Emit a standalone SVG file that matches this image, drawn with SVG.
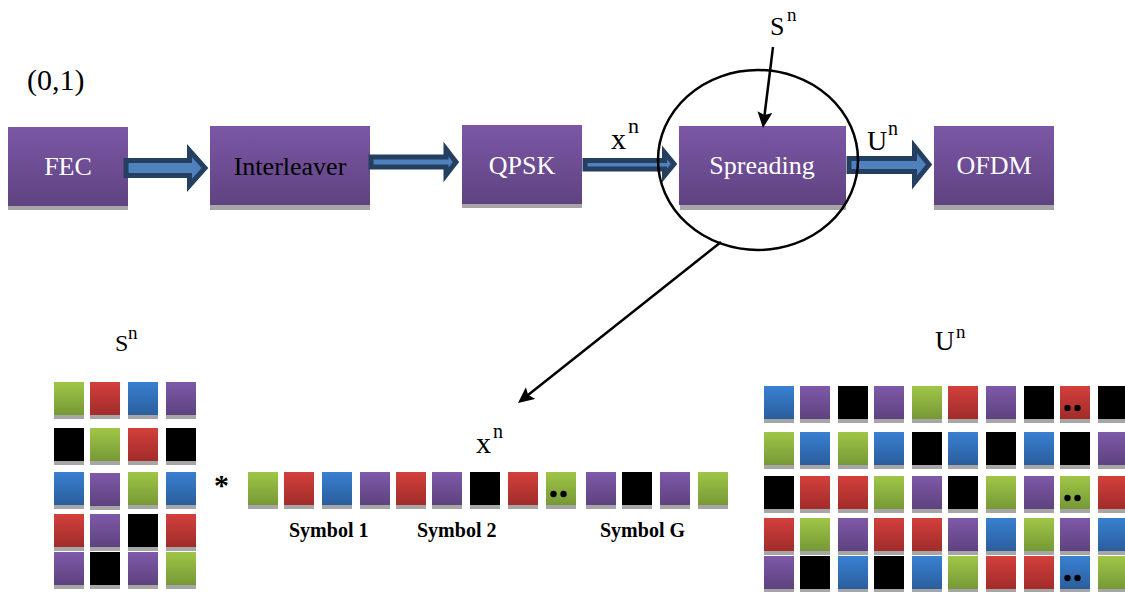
<svg xmlns="http://www.w3.org/2000/svg" width="1125" height="592" viewBox="0 0 1125 592" font-family="'Liberation Serif', 'DejaVu Serif', 'Times New Roman', serif">
  <style>
    text { font-family: "Liberation Serif", "DejaVu Serif", "Times New Roman", serif; fill: #000; }
    .blk { fill: url(#gBlock); }
    .sh { fill: #A6A6A6; }
    .lbl { font-size: 26px; text-anchor: middle; }
    .wht { fill: #FFFFFF; }
    .barrow { fill: #4F81BD; stroke: #243F60; stroke-width: 5; stroke-linejoin: miter; }
    .line { stroke: #000; stroke-width: 2.5; fill: none; }
    .sym { font-size: 20px; font-weight: bold; }
  </style>
  <defs>
    <linearGradient id="gBlock" x1="0" y1="0" x2="0" y2="1">
      <stop offset="0" stop-color="#7C57A6"/>
      <stop offset="1" stop-color="#5F4381"/>
    </linearGradient>
    <linearGradient id="gPurple" x1="0" y1="0" x2="0" y2="1">
      <stop offset="0" stop-color="#7F59A9"/>
      <stop offset="1" stop-color="#5E427F"/>
    </linearGradient>
    <linearGradient id="gGreen" x1="0" y1="0" x2="0" y2="1">
      <stop offset="0" stop-color="#A0C647"/>
      <stop offset="1" stop-color="#769936"/>
    </linearGradient>
    <linearGradient id="gRed" x1="0" y1="0" x2="0" y2="1">
      <stop offset="0" stop-color="#D3403C"/>
      <stop offset="1" stop-color="#A12C2A"/>
    </linearGradient>
    <linearGradient id="gBlue" x1="0" y1="0" x2="0" y2="1">
      <stop offset="0" stop-color="#3A80D2"/>
      <stop offset="1" stop-color="#2A5E9C"/>
    </linearGradient>
    <marker id="ah" markerUnits="userSpaceOnUse" markerWidth="16" markerHeight="15" viewBox="0 0 16 15" refX="10" refY="7.5" orient="auto">
      <path d="M0,0 L16,7.5 L0,15 L3,7.5 Z" fill="#000"/>
    </marker>
    <!-- chip squares: gradient face with grey ledge underneath -->
    <g id="sG"><rect class="sh" y="4" width="30" height="33"/><rect width="30" height="33" fill="url(#gGreen)"/></g>
    <g id="sR"><rect class="sh" y="4" width="30" height="33"/><rect width="30" height="33" fill="url(#gRed)"/></g>
    <g id="sB"><rect class="sh" y="4" width="30" height="33"/><rect width="30" height="33" fill="url(#gBlue)"/></g>
    <g id="sP"><rect class="sh" y="4" width="30" height="33"/><rect width="30" height="33" fill="url(#gPurple)"/></g>
    <g id="sK"><rect class="sh" y="4" width="30" height="33"/><rect width="30" height="33" fill="#000"/></g>
    <g id="dots"><circle cx="7.5" cy="22" r="3.2" fill="#000"/><circle cx="17.5" cy="22" r="3.2" fill="#000"/></g>
  </defs>

  <rect width="1125" height="592" fill="#FFFFFF"/>

  <text x="27" y="90" font-size="30">(0,1)</text>

  <!-- processing chain -->
  <g id="fec">
    <rect class="sh" x="8" y="131" width="120" height="79"/>
    <rect class="blk" x="8" y="127" width="120" height="79"/>
    <text class="lbl wht" x="68" y="175">FEC</text>
  </g>
  <g id="interleaver">
    <rect class="sh" x="210" y="131" width="160" height="79"/>
    <rect class="blk" x="210" y="126" width="160" height="79"/>
    <text class="lbl" x="290" y="175">Interleaver</text>
  </g>
  <g id="qpsk">
    <rect class="sh" x="462" y="129" width="120" height="79"/>
    <rect class="blk" x="462" y="125" width="120" height="79"/>
    <text class="lbl wht" x="522" y="174">QPSK</text>
  </g>
  <g id="spreading">
    <rect class="sh" x="680" y="131" width="166" height="79"/>
    <rect class="blk" x="679" y="126" width="167" height="79"/>
    <text class="lbl wht" x="762" y="174">Spreading</text>
  </g>
  <g id="ofdm">
    <rect class="sh" x="934" y="131" width="120" height="79"/>
    <rect class="blk" x="934" y="126" width="120" height="79"/>
    <text class="lbl wht" x="994" y="174">OFDM</text>
  </g>

  <g id="connectors">
    <path class="barrow" d="M126,160.5 H189.5 V150.5 L205,168 L189.5,185.5 V175.5 H126 Z"/>
    <path class="barrow" d="M371,157 H446 V149 L456,162 L446,175 V167 H371 Z"/>
    <path class="barrow" d="M585,160.5 H664.5 V152.5 L674,164 L664.5,175.5 V169 H585 Z"/>
    <path class="barrow" d="M849,158.5 H914.5 V146.5 L929,164.5 L914.5,182.5 V171.5 H849 Z"/>
    <ellipse class="line" cx="758" cy="160" rx="100" ry="90" stroke-width="2"/>
    <line class="line" x1="773" y1="47" x2="763.7" y2="122" marker-end="url(#ah)"/>
    <line class="line" x1="721" y1="242" x2="522.7" y2="399.3" marker-end="url(#ah)"/>
  </g>

  <!-- signal labels -->
  <g id="labels">
    <text x="611" y="149" font-size="30">x</text><text x="628" y="133" font-size="22">n</text>
    <text x="867" y="150" font-size="28">U</text><text x="888" y="135" font-size="20">n</text>
    <text x="770" y="35" font-size="26">S</text><text x="787" y="21" font-size="19">n</text>
    <text x="115" y="351" font-size="24">S</text><text x="128" y="339" font-size="19">n</text>
    <text x="935" y="350" font-size="27">U</text><text x="956" y="338" font-size="19">n</text>
    <text x="476" y="453" font-size="30">x</text><text x="493" y="438" font-size="20">n</text>
    <text x="214" y="495" font-size="30" font-weight="bold">*</text>
    <text class="sym" x="289" y="537">Symbol 1</text>
    <text class="sym" x="417" y="537">Symbol 2</text>
    <text class="sym" x="600" y="537">Symbol G</text>
  </g>

  <!-- spreading code matrix -->
  <g id="s-matrix">
    <use href="#sG" x="54" y="382"/><use href="#sR" x="90" y="382"/><use href="#sB" x="128" y="382"/><use href="#sP" x="166" y="382"/>
    <use href="#sK" x="54" y="428"/><use href="#sG" x="90" y="428"/><use href="#sR" x="128" y="428"/><use href="#sK" x="166" y="428"/>
    <use href="#sB" x="54" y="472"/><use href="#sP" x="90" y="473"/><use href="#sG" x="128" y="472"/><use href="#sB" x="166" y="472"/>
    <use href="#sR" x="54" y="514"/><use href="#sP" x="90" y="514"/><use href="#sK" x="128" y="514"/><use href="#sR" x="166" y="514"/>
    <use href="#sP" x="54" y="552"/><use href="#sK" x="90" y="552"/><use href="#sP" x="128" y="552"/><use href="#sG" x="166" y="552"/>
  </g>

  <!-- symbol sequence -->
  <g id="x-row">
    <use href="#sG" x="248" y="472"/><use href="#sR" x="284" y="472"/><use href="#sB" x="322" y="472"/><use href="#sP" x="360" y="472"/>
    <use href="#sR" x="396" y="472"/><use href="#sP" x="432" y="472"/><use href="#sK" x="470" y="472"/><use href="#sR" x="508" y="472"/>
    <use href="#sG" x="546" y="472"/><use href="#dots" x="546" y="472"/>
    <use href="#sP" x="586" y="472"/><use href="#sK" x="622" y="472"/><use href="#sP" x="660" y="472"/><use href="#sG" x="698" y="472"/>
  </g>

  <!-- spread output matrix -->
  <g id="u-matrix">
    <use href="#sB" x="764" y="386"/><use href="#sP" x="800" y="386"/><use href="#sK" x="838" y="386"/><use href="#sP" x="874" y="386"/><use href="#sG" x="912" y="386"/>
    <use href="#sR" x="948" y="386"/><use href="#sP" x="986" y="386"/><use href="#sK" x="1024" y="386"/><use href="#sR" x="1060" y="386"/><use href="#sK" x="1098" y="386"/>
    <use href="#dots" x="1060" y="386"/>

    <use href="#sG" x="764" y="432"/><use href="#sB" x="800" y="432"/><use href="#sG" x="838" y="432"/><use href="#sB" x="874" y="432"/><use href="#sK" x="912" y="432"/>
    <use href="#sB" x="948" y="432"/><use href="#sK" x="986" y="432"/><use href="#sB" x="1024" y="432"/><use href="#sK" x="1060" y="432"/><use href="#sP" x="1098" y="432"/>

    <use href="#sK" x="764" y="476"/><use href="#sR" x="800" y="476"/><use href="#sR" x="838" y="476"/><use href="#sG" x="874" y="476"/><use href="#sP" x="912" y="476"/>
    <use href="#sK" x="948" y="476"/><use href="#sG" x="986" y="476"/><use href="#sP" x="1024" y="476"/><use href="#sG" x="1060" y="476"/><use href="#sR" x="1098" y="476"/>
    <use href="#dots" x="1060" y="476"/>

    <use href="#sR" x="764" y="518"/><use href="#sG" x="800" y="518"/><use href="#sP" x="838" y="518"/><use href="#sR" x="874" y="518"/><use href="#sR" x="912" y="518"/>
    <use href="#sP" x="948" y="518"/><use href="#sB" x="986" y="518"/><use href="#sG" x="1024" y="518"/><use href="#sP" x="1060" y="518"/><use href="#sB" x="1098" y="518"/>

    <use href="#sP" x="764" y="556"/><use href="#sK" x="800" y="556"/><use href="#sB" x="838" y="556"/><use href="#sK" x="874" y="556"/><use href="#sB" x="912" y="556"/>
    <use href="#sG" x="948" y="556"/><use href="#sR" x="986" y="556"/><use href="#sR" x="1024" y="556"/><use href="#sB" x="1060" y="556"/><use href="#sG" x="1098" y="556"/>
    <use href="#dots" x="1060" y="556"/>
  </g>
</svg>
